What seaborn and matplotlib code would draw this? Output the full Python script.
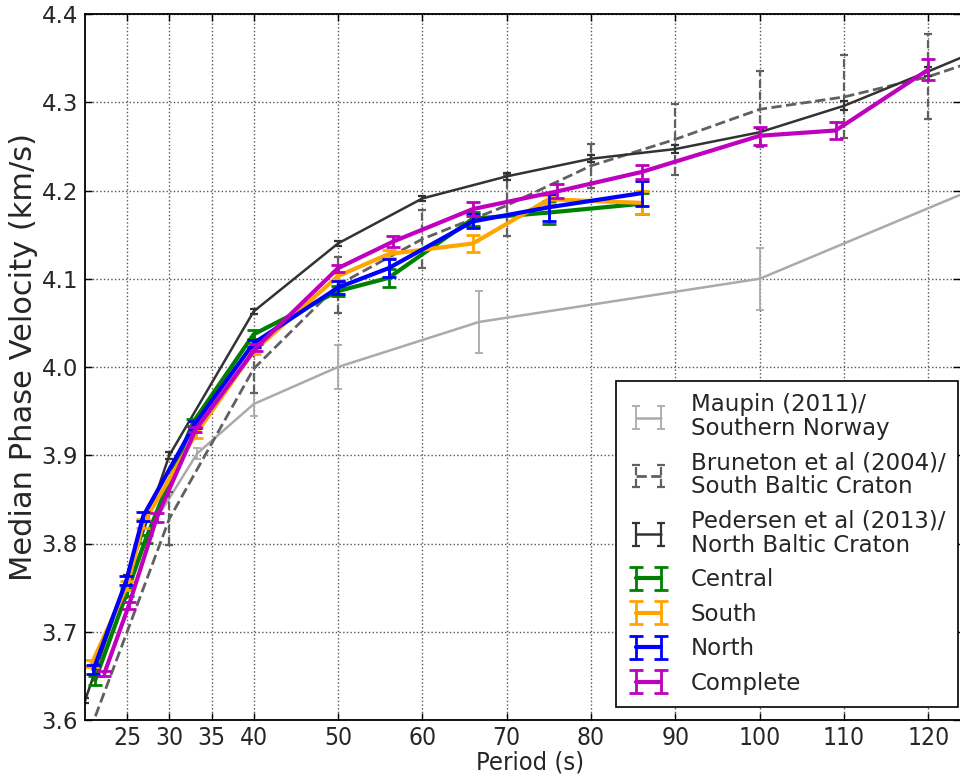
import os
import numpy as np
import matplotlib
matplotlib.use("Agg")
import matplotlib.pyplot as plt
import seaborn as sns
from matplotlib import font_manager as fm
from matplotlib.legend_handler import HandlerTuple

# ---------------- data ----------------
maupin_period = [25, 28.6, 33.3, 40, 50, 66.7, 100, 125]
maupin_vel = [3.760, 3.830, 3.902, 3.958, 4.000, 4.051, 4.100, 4.200]
maupin_err = [np.nan, 0.006, 0.006, 0.013, 0.025, 0.035, 0.035, np.nan]

bruneton_period = [20, 25, 30, 40, 50, 60, 70, 80, 90, 100, 110, 120, 125]
bruneton_vel = [3.573, 3.700, 3.828, 3.998, 4.093, 4.145, 4.183, 4.228, 4.258,
                4.292, 4.306, 4.329, 4.345]
bruneton_err = [np.nan, np.nan, 0.030, 0.027, 0.032, 0.033, 0.035, 0.025, 0.040,
                0.043, 0.047, 0.048, np.nan]

pedersen_period = [20, 25, 30, 40, 50, 60, 70, 80, 90, 100, 110, 120, 125]
pedersen_vel = [3.622, 3.760, 3.900, 4.063, 4.140, 4.191, 4.216, 4.236, 4.247,
                4.266, 4.296, 4.335, 4.355]
pedersen_err = [0.003, 0.004, 0.004, 0.003, 0.003, 0.003, 0.004, 0.004, 0.004,
                0.004, 0.005, 0.005, np.nan]

central_period = [21.2, 25.0, 27.2, 32.8, 40, 50, 56, 66, 75, 86]
central_vel = [3.645, 3.745, 3.805, 3.937, 4.037, 4.086, 4.101, 4.168, 4.175, 4.185]
central_err = [0.005, 0.005, 0.005, 0.004, 0.005, 0.006, 0.010, 0.008, 0.013, 0.012]

south_period = [20.8, 25.0, 26.9, 33.2, 40, 50, 56, 66, 75, 86]
south_vel = [3.664, 3.752, 3.823, 3.925, 4.018, 4.103, 4.128, 4.140, 4.190, 4.186]
south_err = [0.004, 0.005, 0.005, 0.006, 0.003, 0.004, 0.005, 0.010, 0.005, 0.013]

north_period = [21.0, 24.9, 26.9, 33.0, 40, 50, 56, 66, 75, 86]
north_vel = [3.657, 3.758, 3.831, 3.935, 4.027, 4.090, 4.112, 4.165, 4.181, 4.197]
north_err = [0.005, 0.005, 0.005, 0.004, 0.004, 0.007, 0.010, 0.008, 0.015, 0.014]

complete_period = [22.3, 25.2, 28.5, 33.1, 40.3, 50, 56.5, 66, 76, 86, 100, 109, 120]
complete_vel = [3.653, 3.730, 3.829, 3.929, 4.022, 4.112, 4.142, 4.179, 4.199,
                4.221, 4.262, 4.268, 4.337]
complete_err = [0.003, 0.004, 0.005, 0.003, 0.004, 0.004, 0.006, 0.008, 0.008,
                0.008, 0.010, 0.010, 0.012]

labels = ["Maupin (2011)/\nSouthern Norway",
          "Bruneton et al (2004)/\nSouth Baltic Craton",
          "Pedersen et al (2013)/\nNorth Baltic Craton",
          "Central", "South", "North", "Complete"]
x_ticks = [25, 30, 35, 40, 50, 60, 70, 80, 90, 100, 110, 120]
y_ticks = [3.6, 3.7, 3.8, 3.9, 4.0, 4.1, 4.2, 4.3, 4.4]


def find_condensed():
    """Look for a regular condensed / narrow sans font; None if there is none."""
    prefs = ["liberation sans narrow", "dejavu sans", "roboto condensed",
             "noto sans", "open sans", "liberation"]
    bad = ["bold", "italic", "oblique", "light", "thin", "black", "medium",
           "semi", "extra", "ultra", "heavy", "mono", "serif", "display"]
    cands = []
    for f in fm.fontManager.ttflist:
        base = os.path.basename(f.fname).lower()
        nm = f.name.lower()
        is_cond = ("narrow" in base or "condensed" in base or "narrow" in nm
                   or "condensed" in nm)
        if not is_cond or f.style != "normal":
            continue
        stem = base.replace("condensed", "").replace("narrow", "")
        if any(b in stem for b in bad):
            continue
        rank = len(prefs)
        for i, p in enumerate(prefs):
            if nm.startswith(p):
                rank = i
                break
        cands.append((rank, f.fname))
    if not cands:
        return None
    cands.sort()
    return fm.FontProperties(fname=cands[0][1])


# ---------------- style ----------------
sns.set_style("ticks")
plt.rcParams["font.family"] = ["DejaVu Sans"]
plt.rcParams["xtick.direction"] = "in"
plt.rcParams["ytick.direction"] = "in"

fig = plt.figure(figsize=(9.6, 7.78), dpi=100)
ax = fig.add_axes([85 / 960, 58 / 778, 1 - 85 / 960, 706 / 778])
renderer = fig.canvas.get_renderer()

cond = find_condensed()
xfont = cond if cond is not None else fm.FontProperties(family="DejaVu Sans")


def fit_size(fp, text, width_px):
    t = fig.text(0, 0, text, fontproperties=fp, size=20)
    w = t.get_window_extent(renderer).width
    t.remove()
    return 20 * width_px / w


xtick_size = fit_size(xfont, "120", 42)
xlabel_size = fit_size(xfont, "Period (s)", 108)

series = [
    (maupin_period, maupin_vel, maupin_err, "#aaaaaa", "-", 1.8, 1.3, 3.0),
    (bruneton_period, bruneton_vel, bruneton_err, "#606060", "--", 2.0, 1.6, 3.0),
    (pedersen_period, pedersen_vel, pedersen_err, "#333333", "-", 1.8, 1.6, 3.0),
    (central_period, central_vel, central_err, "green", "-", 3.0, 2.0, 5.0),
    (south_period, south_vel, south_err, "orange", "-", 3.0, 2.0, 5.0),
    (north_period, north_vel, north_err, "blue", "-", 3.0, 2.0, 5.0),
    (complete_period, complete_vel, complete_err, "m", "-", 3.0, 2.0, 5.0),
]

handles = []
for (px, py, pe, col, ls, lw, elw, cap), lab in zip(series, labels):
    sns.lineplot(x=px, y=py, sort=False, estimator=None, color=col,
                 linestyle=ls, linewidth=lw, ax=ax, legend=False)
    line = ax.lines[-1]
    cont = ax.errorbar(px, py, yerr=pe, fmt="none", ecolor=col,
                       elinewidth=elw, capsize=cap, capthick=elw)
    if ls == "--":
        cont[2][0].set_linestyle("--")
    handles.append((line, cont))

ax.set_xlim(20, 123.75)
ax.set_ylim(3.6, 4.4)
ax.set_xticks(x_ticks)
ax.set_yticks(y_ticks)
ax.set_yticklabels([f"{v:.1f}" for v in y_ticks])

ax.grid(True, linestyle=":", color="#555555", linewidth=1.0)
ax.tick_params(axis="both", which="both", top=True, right=True, length=5,
               width=1, color="black")
ax.tick_params(axis="y", labelsize=16.5, pad=5)
ax.tick_params(axis="x", pad=4)
for t in ax.get_xticklabels():
    t.set_fontproperties(xfont)
    t.set_fontsize(xtick_size)

for s in ax.spines.values():
    s.set_color("black")
    s.set_linewidth(1.3)
ax.spines["right"].set_visible(False)

xl = ax.set_xlabel("Period (s)")
xl.set_fontproperties(xfont)
xl.set_fontsize(xlabel_size)
ax.xaxis.set_label_coords(0.509, -0.043)
ax.set_ylabel("Median Phase Velocity (km/s)", fontsize=22)
ax.yaxis.set_label_coords(-0.054, 0.514)

leg = ax.legend(handles, labels,
                handler_map={tuple: HandlerTuple(ndivide=1, pad=0)},
                loc="lower right", bbox_to_anchor=(0.998, 0.018),
                borderaxespad=0, numpoints=2, fontsize=16.5, fancybox=False,
                framealpha=1, edgecolor="black", handlelength=1.7,
                handletextpad=1.0, labelspacing=0.5, borderpad=0.55)
leg.get_frame().set_linewidth(1.2)
for t in leg.get_texts():
    t.set_linespacing(1.05)

fig.savefig("out.png", dpi=100, facecolor="white")
